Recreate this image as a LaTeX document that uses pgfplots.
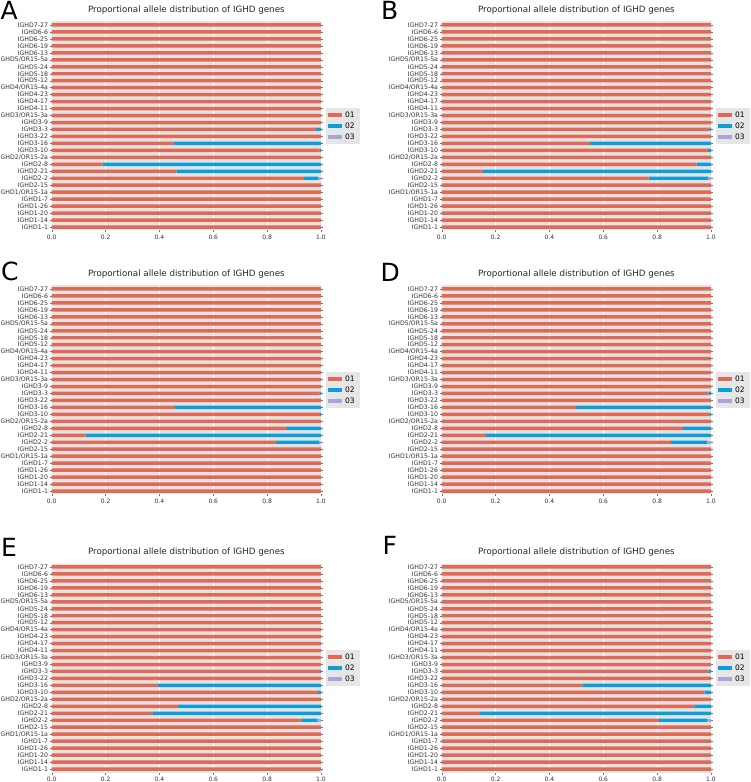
\documentclass[border=0pt]{standalone}
\usepackage{fontspec}
\setmainfont{DejaVu Sans}
\usepackage{pgfplots}
\usepackage{pgfplotstable}
\pgfplotsset{compat=1.18}

\definecolor{c01}{HTML}{E06A55}
\definecolor{c02}{HTML}{0C9ED8}
\definecolor{c03}{HTML}{A8A6D8}
\definecolor{bg}{HTML}{E3E3E3}
\definecolor{lg}{HTML}{E6E6E6}

% y: 0 = IGHD1-1 ... 29 = IGHD7-27 ; a = allele 01, b = 02, c = 03
\pgfplotstableread{
y a b c
0 1 0 0
1 1 0 0
2 1 0 0
3 1 0 0
4 1 0 0
5 1 0 0
6 1 0 0
7 0.937 0.051 0.012
8 0.464 0.536 0
9 0.189 0.811 0
10 1 0 0
11 0.994 0.006 0
12 0.452 0.548 0
13 1 0 0
14 0.981 0.019 0
15 1 0 0
16 1 0 0
17 1 0 0
18 1 0 0
19 1 0 0
20 1 0 0
21 1 0 0
22 1 0 0
23 1 0 0
24 1 0 0
25 1 0 0
26 1 0 0
27 1 0 0
28 1 0 0
29 1 0 0
}\tabA
\pgfplotstableread{
y a b c
0 1 0 0
1 1 0 0
2 1 0 0
3 1 0 0
4 1 0 0
5 1 0 0
6 1 0 0
7 0.768 0.220 0.012
8 0.153 0.847 0
9 0.947 0.053 0
10 1 0 0
11 0.988 0.012 0
12 0.551 0.449 0
13 1 0 0
14 0.994 0.006 0
15 1 0 0
16 1 0 0
17 1 0 0
18 1 0 0
19 1 0 0
20 1 0 0
21 1 0 0
22 1 0 0
23 1 0 0
24 1 0 0
25 1 0 0
26 1 0 0
27 1 0 0
28 1 0 0
29 1 0 0
}\tabB
\pgfplotstableread{
y a b c
0 1 0 0
1 1 0 0
2 1 0 0
3 1 0 0
4 1 0 0
5 1 0 0
6 1 0 0
7 0.832 0.161 0.007
8 0.126 0.874 0
9 0.873 0.127 0
10 1 0 0
11 0.996 0.004 0
12 0.457 0.543 0
13 1 0 0
14 0.994 0.006 0
15 1 0 0
16 1 0 0
17 1 0 0
18 1 0 0
19 1 0 0
20 1 0 0
21 1 0 0
22 1 0 0
23 1 0 0
24 1 0 0
25 1 0 0
26 1 0 0
27 1 0 0
28 1 0 0
29 1 0 0
}\tabC
\pgfplotstableread{
y a b c
0 1 0 0
1 1 0 0
2 1 0 0
3 1 0 0
4 1 0 0
5 1 0 0
6 1 0 0
7 0.852 0.133 0.015
8 0.164 0.836 0
9 0.896 0.104 0
10 1 0 0
11 0.994 0.006 0
12 0.499 0.501 0
13 1 0 0
14 0.990 0.010 0
15 1 0 0
16 1 0 0
17 1 0 0
18 1 0 0
19 1 0 0
20 1 0 0
21 1 0 0
22 1 0 0
23 1 0 0
24 1 0 0
25 1 0 0
26 1 0 0
27 1 0 0
28 1 0 0
29 1 0 0
}\tabD
\pgfplotstableread{
y a b c
0 1 0 0
1 1 0 0
2 1 0 0
3 1 0 0
4 1 0 0
5 1 0 0
6 1 0 0
7 0.927 0.059 0.014
8 0.376 0.624 0
9 0.469 0.531 0
10 1 0 0
11 0.988 0.012 0
12 0.392 0.608 0
13 1 0 0
14 0.994 0.006 0
15 1 0 0
16 1 0 0
17 1 0 0
18 1 0 0
19 1 0 0
20 1 0 0
21 1 0 0
22 1 0 0
23 1 0 0
24 1 0 0
25 1 0 0
26 1 0 0
27 1 0 0
28 1 0 0
29 1 0 0
}\tabE
\pgfplotstableread{
y a b c
0 1 0 0
1 1 0 0
2 1 0 0
3 1 0 0
4 1 0 0
5 1 0 0
6 1 0 0
7 0.807 0.179 0.014
8 0.142 0.858 0
9 0.938 0.062 0
10 1 0 0
11 0.976 0.024 0
12 0.522 0.478 0
13 1 0 0
14 0.991 0.009 0
15 1 0 0
16 1 0 0
17 1 0 0
18 1 0 0
19 1 0 0
20 1 0 0
21 1 0 0
22 1 0 0
23 1 0 0
24 1 0 0
25 1 0 0
26 1 0 0
27 1 0 0
28 1 0 0
29 1 0 0
}\tabF

\pgfplotsset{
  panelstyle/.style={
    scale only axis,
    width=269.3pt, height=209pt,
    xmin=0, xmax=1, ymin=-0.5, ymax=29.5,
    xbar stacked, bar width=0.5,
    ytick={0,...,29},
    yticklabels={IGHD1-1,IGHD1-14,IGHD1-20,IGHD1-26,IGHD1-7,IGHD1/OR15-1a,IGHD2-15,IGHD2-2,IGHD2-21,IGHD2-8,IGHD2/OR15-2a,IGHD3-10,IGHD3-16,IGHD3-22,IGHD3-3,IGHD3-9,IGHD3/OR15-3a,IGHD4-11,IGHD4-17,IGHD4-23,IGHD4/OR15-4a,IGHD5-12,IGHD5-18,IGHD5-24,IGHD5/OR15-5a,IGHD6-13,IGHD6-19,IGHD6-25,IGHD6-6,IGHD7-27},
    xtick={0,0.2,0.4,0.6,0.8,1},
    xticklabels={0.0,0.2,0.4,0.6,0.8,1.0},
    yticklabel style={font=\fontsize{6.2}{6.2}\selectfont, text=black!80, inner sep=1.5pt},
    xticklabel style={font=\fontsize{6}{6}\selectfont, text=black!80, inner sep=2pt},
    title={Proportional allele distribution of IGHD genes},
    title style={at={(0.5,1)}, anchor=base, yshift=2.8pt, font=\fontsize{8.7}{8.7}\selectfont, text=black!85},
    axis background/.style={fill=bg},
    axis line style={draw=none},
    xmajorgrids, grid style={white, line width=0.6pt},
    tick align=outside, major tick length=2pt,
    tick style={color=black!55, line width=0.4pt},
    xtick pos=bottom, ytick pos=both,
    legend style={at={(1,0.5)}, anchor=west, xshift=4.5pt, fill=lg, draw=none,
      font=\fontsize{7.5}{7.5}\selectfont, inner xsep=2.5pt, inner ysep=1.5pt,
      nodes={inner xsep=2.8pt, inner ysep=2.7pt, text height=5.4pt, text depth=0pt},
      row sep=0pt},
    legend cell align=left,
    legend image code/.code={\fill[##1] (0pt,-2.2pt) rectangle (14pt,2.2pt);},
  }
}

\newcommand{\panel}[3]{%
\begin{axis}[panelstyle, at={(#2pt,#3pt)}, anchor=south west]
\addplot[fill=c01, draw=none] table[x=a, y=y]{#1};
\addplot[fill=c02, draw=none] table[x=b, y=y]{#1};
\addplot[fill=c03, draw=none] table[x=c, y=y]{#1};
\legend{01,02,03}
\end{axis}}

\begin{document}
\begin{tikzpicture}
\panel{\tabA}{51.7}{551.5}
\panel{\tabB}{441.7}{551.5}
\panel{\tabC}{51.7}{287.5}
\panel{\tabD}{441.7}{287.5}
\panel{\tabE}{51.7}{9.5}
\panel{\tabF}{441.7}{9.5}
\begin{scope}[every node/.style={anchor=base west, inner sep=0pt, font=\fontsize{25}{25}\selectfont}]
\node at (0.5pt,762.5pt) {A};
\node at (381pt,762.5pt) {B};
\node at (1pt,501.5pt) {C};
\node at (380.5pt,500.5pt) {D};
\node at (1pt,225.3pt) {E};
\node at (382.5pt,227pt) {F};
\end{scope}
\pgfresetboundingbox
\path (0,0) rectangle (750pt,782pt);
\end{tikzpicture}
\end{document}
